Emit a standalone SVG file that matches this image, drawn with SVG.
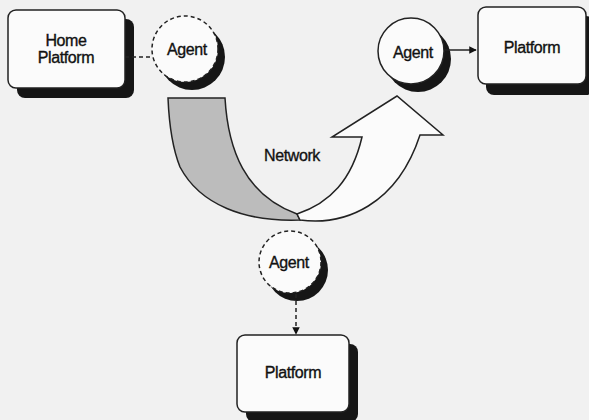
<svg xmlns="http://www.w3.org/2000/svg" width="589" height="420" viewBox="0 0 589 420">
<defs>
<style>
.bg{fill:#f1f1f1}
.box{fill:#fbfbfb;stroke:#222;stroke-width:1.5}
.shadow{fill:#161616}
.agent{fill:#fbfbfb;stroke:#222;stroke-width:1.5}
.dashed{stroke-dasharray:4 3}
.t{font-family:"Liberation Sans",Arial,sans-serif;font-size:16px;letter-spacing:-0.4px;fill:#111;stroke:#111;stroke-width:0.35;text-anchor:middle}
.conn{fill:none;stroke:#222;stroke-width:1.5}
.net{stroke:#222;stroke-width:1.5;stroke-linejoin:miter}
</style>
<marker id="ah" viewBox="0 0 10 10" refX="9" refY="5" markerWidth="5" markerHeight="5" orient="auto">
<path d="M0,0 L10,5 L0,10 z" fill="#111"/>
</marker>
</defs>
<rect class="bg" width="589" height="420"/>

<g id="network">
<path class="net" fill="#bcbcbc" d="M168,98 L225,98 C228,150 245,195 297,214 L300,220 C245,222 200,205 180,167 C172,147 169,122 168,98 Z"/>
<path class="net" fill="#fbfbfb" d="M297,214 L300,220 C345,226 397,205 420,135 L443,135 L397,96 L332,137 L362,137 C352,180 330,203 297,214 Z"/>
<text class="t" x="292" y="161">Network</text>
</g>

<g id="home-platform">
<rect class="shadow" x="17" y="19" width="117" height="79" rx="8"/>
<rect class="box" x="8" y="10" width="117" height="78" rx="8"/>
<text class="t" x="66" y="46">Home</text>
<text class="t" x="66" y="63">Platform</text>
</g>

<g id="agent-home">
<circle class="shadow" cx="192" cy="57" r="33"/>
<circle class="agent dashed" cx="185" cy="49" r="33"/>
<text class="t" x="187" y="55">Agent</text>
</g>

<g id="agent-remote">
<circle class="shadow" cx="418" cy="59" r="33"/>
<circle class="agent" cx="411" cy="51" r="33"/>
<text class="t" x="413" y="58">Agent</text>
</g>

<g id="platform-right">
<rect class="shadow" x="486" y="16" width="108" height="79" rx="8"/>
<rect class="box" x="478" y="7" width="108" height="77" rx="8"/>
<text class="t" x="532" y="53">Platform</text>
</g>

<g id="agent-bottom">
<circle class="shadow" cx="297" cy="270" r="31"/>
<circle class="agent dashed" cx="290" cy="262" r="31"/>
<text class="t" x="289" y="268">Agent</text>
</g>

<g id="platform-bottom">
<rect class="shadow" x="246" y="344" width="112" height="78" rx="8"/>
<rect class="box" x="237" y="335" width="112" height="77" rx="8"/>
<text class="t" x="293" y="378">Platform</text>
</g>

<g id="connectors">
<line class="conn dashed" x1="125" y1="57" x2="152" y2="57"/>
<line class="conn" x1="445" y1="50" x2="476" y2="50" marker-end="url(#ah)"/>
<line class="conn dashed" x1="296" y1="294" x2="296" y2="334" marker-end="url(#ah)"/>
</g>
</svg>
